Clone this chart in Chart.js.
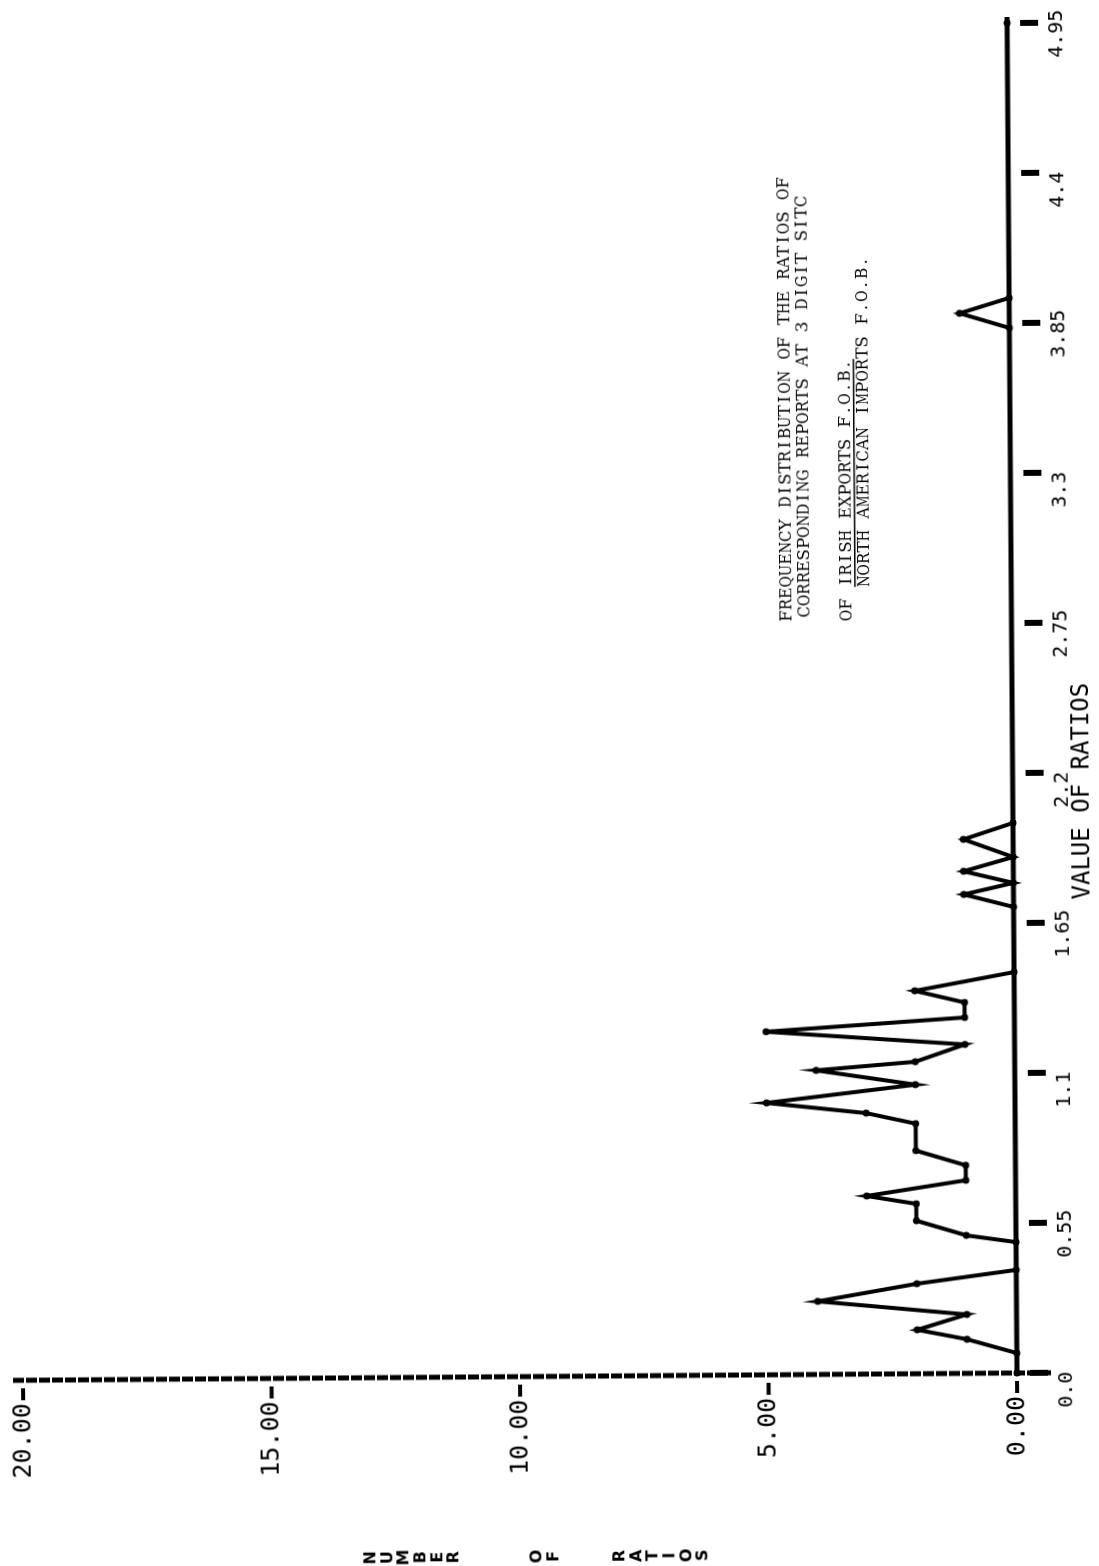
<!DOCTYPE html>
<html>
<head>
<meta charset="utf-8">
<title>Frequency distribution of the ratios</title>
<script src="https://cdn.jsdelivr.net/npm/chart.js@4.4.1/dist/chart.umd.min.js"></script>
<style>
  html, body { margin: 0; padding: 0; background: #fff; }
  body { width: 1099px; height: 1566px; overflow: hidden; position: relative; }
  /* the plot sheet sits on its side, slightly skewed like the original plotter output */
  #sheet { position: absolute; left: 0; top: 0; width: 1099px; height: 1566px;
           transform-origin: 1017px 1373px; transform: rotate(-0.42deg); }
  #plot { position: absolute; left: 0; top: 0; width: 1566px; height: 1099px;
          transform-origin: 0 0; transform: translate(0, 1566px) rotate(-90deg); }
</style>
</head>
<body>
<div id="sheet">
  <div id="plot"><canvas id="freqChart" width="1566" height="1099"></canvas></div>
</div>
<script>
// Frequency polygon: value of ratio -> number of ratios
const ratioValues = [0.0, 0.073, 0.125, 0.161, 0.216, 0.268, 0.33, 0.378, 0.48, 0.506,
                     0.561, 0.623, 0.653, 0.708, 0.763, 0.818, 0.917, 0.957, 0.997, 1.06,
                     1.115, 1.144, 1.206, 1.258, 1.305, 1.36, 1.404, 1.47,
                     1.709, 1.756, 1.797, 1.841, 1.892, 1.958, 2.017,
                     3.832, 3.887, 3.942, 4.95];
const ratioCounts = [0, 0, 1, 2, 1, 4, 2, 0, 0, 1,
                     2, 2, 3, 1, 1, 2, 2, 3, 5, 2,
                     4, 2, 1, 5, 1, 1, 2, 0,
                     0, 1, 0, 1, 0, 1, 0,
                     0, 1, 0, 0];

const ratioTicks = [0, 0.55, 1.1, 1.65, 2.2, 2.75, 3.3, 3.85, 4.4, 4.95];
const ratioTickLabels = ['0.0', '0.55', '1.1', '1.65', '2.2', '2.75', '3.3', '3.85', '4.4', '4.95'];
const countTicks = [0, 5, 10, 15, 20];
const countTickLabels = ['0.00', '5.00', '10.00', '15.00', '20.00'];

const titleLines = ['FREQUENCY DISTRIBUTION OF THE RATIOS OF', 'CORRESPONDING REPORTS AT 3 DIGIT SITC'];
const fractionTop = 'IRISH EXPORTS F.O.B.';
const fractionBottom = 'NORTH AMERICAN IMPORTS F.O.B.';

const MONO = '"DejaVu Sans Mono", monospace';
const TYPE = '"DejaVu Serif", "Liberation Serif", serif';
const TYPE_PITCH = 11.4; // typewriter character pitch

// typed text: every character in its own fixed-width cell
function typeText(ctx, text, x, y) {
    for (let i = 0; i < text.length; i++) {
        const ch = text[i];
        if (ch === ' ') continue;
        const w = ctx.measureText(ch).width;
        const cx = x + i * TYPE_PITCH + TYPE_PITCH / 2;
        ctx.save();
        ctx.translate(cx, y);
        if (w > TYPE_PITCH) ctx.scale(TYPE_PITCH / w, 1);
        ctx.fillText(ch, 0, 0);
        ctx.restore();
    }
    return text.length * TYPE_PITCH;
}

// Axes drawn the way the pen plotter drew them
const plotterAxes = {
    id: 'plotterAxes',
    beforeDatasetsDraw(chart) {
        const ctx = chart.ctx;
        const xs = chart.scales.x;
        const ys = chart.scales.y;
        const x0 = xs.getPixelForValue(0);
        const y0 = ys.getPixelForValue(0);

        ctx.save();
        ctx.strokeStyle = '#000';
        ctx.fillStyle = '#000';

        // count axis, heavy broken line
        ctx.lineWidth = 5;
        ctx.setLineDash([11, 2]);
        ctx.beginPath();
        ctx.moveTo(x0, ys.getPixelForValue(20) - 10);
        ctx.lineTo(x0, y0 + 36);
        ctx.stroke();
        ctx.setLineDash([]);

        // ratio axis, solid
        ctx.beginPath();
        ctx.moveTo(x0, y0);
        ctx.lineTo(xs.getPixelForValue(4.95) + 6, y0);
        ctx.stroke();

        countTicks.forEach(v => {
            const py = ys.getPixelForValue(v);
            ctx.fillRect(x0 - 20, py - 2, 12, 4);
        });
        ratioTicks.forEach(v => {
            const px = xs.getPixelForValue(v);
            ctx.fillRect(px - 3, y0 + 13, 6, 18);
        });
        ctx.restore();
    },
    afterDraw(chart) {
        const ctx = chart.ctx;
        const xs = chart.scales.x;
        const ys = chart.scales.y;
        const x0 = xs.getPixelForValue(0);
        const y0 = ys.getPixelForValue(0);

        ctx.save();
        ctx.fillStyle = '#000';

        // count labels
        ctx.font = '25px ' + MONO;
        ctx.textAlign = 'right';
        ctx.textBaseline = 'middle';
        countTicks.forEach((v, i) => {
            ctx.fillText(countTickLabels[i], x0 - 23, ys.getPixelForValue(v));
        });

        // ratio labels
        ctx.font = '20px ' + MONO;
        ctx.textAlign = 'left';
        ctx.textBaseline = 'alphabetic';
        ratioTicks.forEach((v, i) => {
            ctx.fillText(ratioTickLabels[i], xs.getPixelForValue(v) - 35, y0 + 55);
        });

        // axis titles
        ctx.font = '24px ' + MONO;
        ctx.fillText('VALUE OF RATIOS', 666, y0 + 76);

        ctx.font = 'bold 16px "DejaVu Sans", sans-serif';
        ctx.textAlign = 'center';
        ctx.textBaseline = 'middle';
        const stacked = 'NUMBER    OF   RATIOS';
        for (let i = 0; i < stacked.length; i++) {
            if (stacked[i] !== ' ') ctx.fillText(stacked[i], 13, 370 + i * 16.6);
        }

        // typed caption
        ctx.font = '17px ' + TYPE;
        ctx.textAlign = 'center';
        ctx.textBaseline = 'alphabetic';
        typeText(ctx, titleLines[0], 946, 797);
        typeText(ctx, titleLines[1], 950, 815);
        typeText(ctx, 'OF', 946, 857);
        const fx = 946 + 3 * TYPE_PITCH;
        const fw = typeText(ctx, fractionTop, fx, 857);
        ctx.fillRect(fx, 860, fw, 1.5);
        typeText(ctx, fractionBottom, fx, 875);
        ctx.restore();
    }
};

const chart = new Chart(document.getElementById('freqChart'), {
    type: 'line',
    data: {
        datasets: [{
            data: ratioValues.map((r, i) => ({ x: r, y: ratioCounts[i] })),
            borderColor: '#000',
            borderWidth: 4,
            pointRadius: 3.5,
            pointBorderWidth: 0,
            pointBackgroundColor: '#000',
            tension: 0,
            fill: false,
            clip: false
        }]
    },
    options: {
        responsive: false,
        animation: false,
        events: [],
        layout: { padding: { left: 193, right: 23, top: 23, bottom: 82 } },
        scales: {
            x: { type: 'linear', min: 0, max: 4.95, display: false },
            y: { type: 'linear', min: 0, max: 20, display: false }
        },
        plugins: { legend: { display: false }, tooltip: { enabled: false } }
    },
    plugins: [plotterAxes]
});
</script>
</body>
</html>
